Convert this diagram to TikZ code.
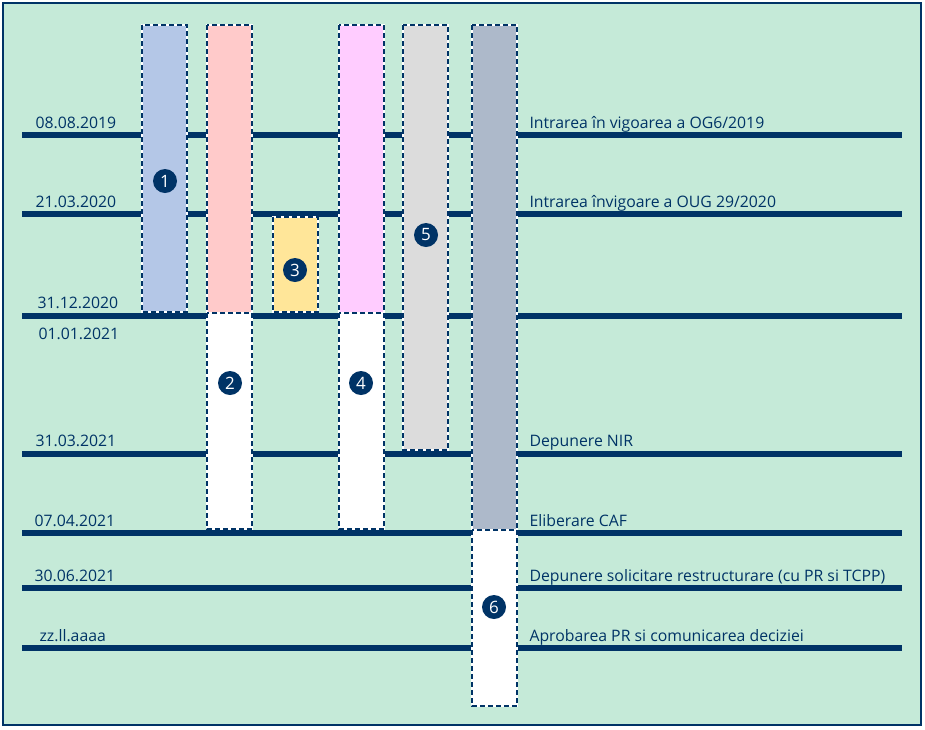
\documentclass[tikz,border=0pt]{standalone}
\usepackage{fontspec}
\setmainfont{Open Sans}
\usetikzlibrary{positioning,calc}
\definecolor{navy}{HTML}{003366}
\definecolor{mint}{HTML}{C5EAD8}
\definecolor{barA}{HTML}{B4C7E7}
\definecolor{barB}{HTML}{FFCACA}
\definecolor{barC}{HTML}{FFE699}
\definecolor{barD}{HTML}{FFCCFF}
\definecolor{barE}{HTML}{DCDCDC}
\definecolor{barF}{HTML}{ADB9CA}
\newcommand{\lblfont}{\fontsize{15.8}{17}\selectfont}
\begin{document}
\begin{tikzpicture}[x=1pt,y=-1pt,
        timeline/.style = {navy,line width=6pt},
        bar/.style = {preaction={fill=#1,draw=white,line width=2pt},draw=navy,line width=2pt,dash pattern=on 5pt off 3pt},
        num/.style = {circle,fill=navy,text=white,inner sep=0pt,minimum size=24pt,font=\fontsize{17}{17}\selectfont},
        date/.style = {anchor=base west,text=navy,font=\lblfont},
        event/.style = {anchor=base west,text=navy,font=\lblfont}
        ]
        \useasboundingbox (0,0) rectangle (925,729);

        %Rahmen
        \draw[fill=mint,draw=navy,line width=2pt] (3,3) rectangle (921,725);

        %Zeitlinien
        \foreach \y/\n in {135/a,214/b,316/c,454/d,533/e,588/f,648/g}
        {
        \coordinate (\n l) at (22,\y);
        \coordinate (\n r) at (902,\y);
        \draw[timeline] (\n l) -- (\n r);
        }

        %Daten
        \node[date] (da) at (32,128) {08.08.2019};
        \node[date] (db) at (32,207) {21.03.2020};
        \node[date] (dc) at (34,308) {31.12.2020};
        \node[date] (dc2) at (35,339) {01.01.2021};
        \node[date] (dd) at (32,446) {31.03.2021};
        \node[date] (de) at (31,526) {07.04.2021};
        \node[date] (df) at (31,581) {30.06.2021};
        \node[date] (dg) at (36,641) {zz.ll.aaaa};

        %Ereignisse
        \node[event] (ea) at (526,128) {Intrarea în vigoarea a OG6/2019};
        \node[event] (eb) at (526,207) {Intrarea învigoare a OUG 29/2020};
        \node[event] (ed) at (526,446) {Depunere NIR};
        \node[event] (ee) at (526,526) {Eliberare CAF};
        \node[event] (ef) at (526,581) {Depunere solicitare restructurare (cu PR si TCPP)};
        \node[event] (eg) at (526,641) {Aprobarea PR si comunicarea deciziei};

        %Balken
        \draw[bar=barA] (142,25) rectangle (187,312);
        \draw[bar=barB] (207,25) rectangle (252,313);
        \draw[bar=white] (207,313) rectangle (252,529);
        \draw[bar=barC] (273,217) rectangle (318,312);
        \draw[bar=barD] (339,25) rectangle (384,313);
        \draw[bar=white] (339,313) rectangle (384,529);
        \draw[bar=barE] (403,25) rectangle (448,450);
        \draw[bar=barF] (472,25) rectangle (517,530);
        \draw[bar=white] (472,530) rectangle (517,706);

        %Nummern
        \node[num] (n1) at (165,181) {1};
        \node[num] (n2) at (230,383) {2};
        \node[num] (n3) at (295,270) {3};
        \node[num] (n4) at (361,383) {4};
        \node[num] (n5) at (426,235) {5};
        \node[num] (n6) at (494,607) {6};
\end{tikzpicture}
\end{document}
